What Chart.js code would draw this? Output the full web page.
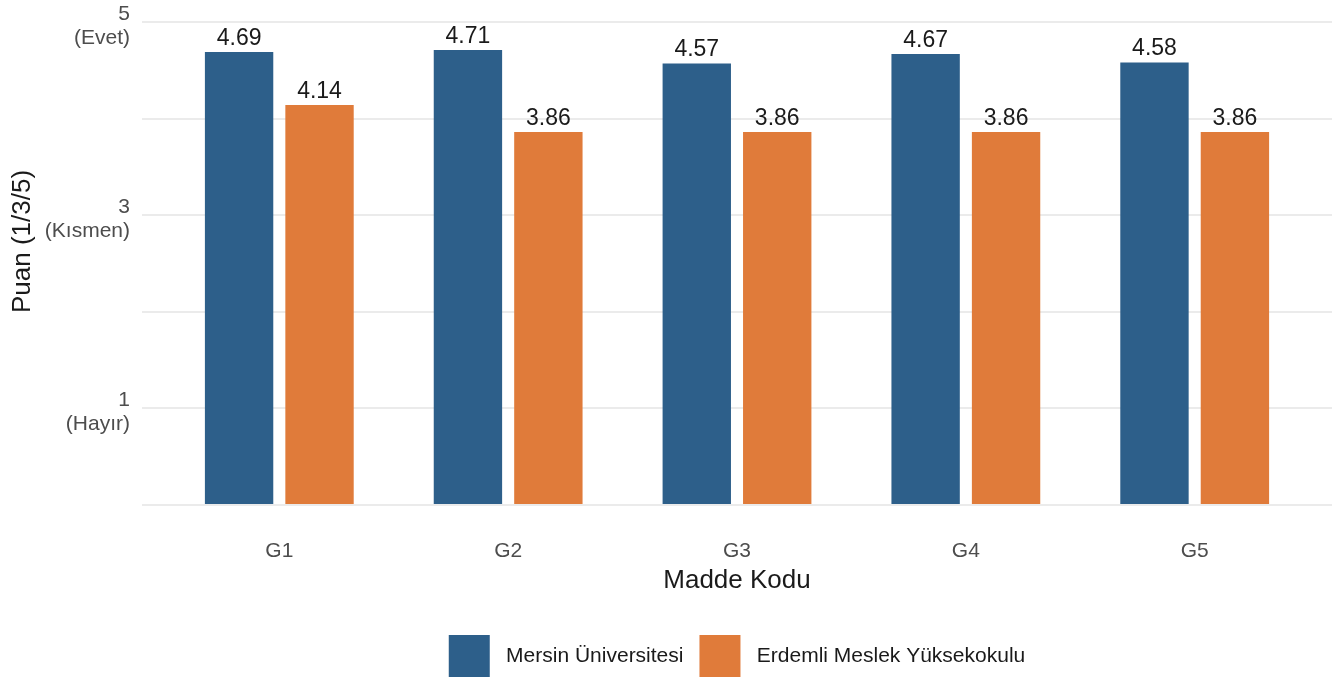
<!DOCTYPE html>
<html lang="tr">
<head>
<meta charset="UTF-8">
<title>Puan (1/3/5)</title>
<script src="https://cdn.jsdelivr.net/npm/chart.js"></script>
<style>
  body { margin: 0; background: #fff; }
  #kutu { width: 1341px; height: 679px; }
</style>
</head>
<body>
<div id="kutu"><canvas id="grafik"></canvas></div>
<script>
// veriler
const categories = ['G1', 'G2', 'G3', 'G4', 'G5'];
const mersinValues = [4.69, 4.71, 4.57, 4.67, 4.58];
const erdemliValues = [4.14, 3.86, 3.86, 3.86, 3.86];
const seriesNames = ['Mersin Üniversitesi', 'Erdemli Meslek Yüksekokulu'];
const yTickLabels = { 1: ['1', '(Hayır)'], 3: ['3', '(Kısmen)'], 5: ['5', '(Evet)'] };

const FONT = "'Liberation Sans', Arial, sans-serif";

// bar ust etiketleri
const degerEtiketi = {
  id: 'degerEtiketi',
  afterDatasetsDraw(chart) {
    const ctx = chart.ctx;
    ctx.save();
    ctx.font = '23px ' + FONT;
    ctx.fillStyle = '#1a1a1a';
    ctx.textAlign = 'center';
    ctx.textBaseline = 'bottom';
    chart.data.datasets.forEach((ds, i) => {
      chart.getDatasetMeta(i).data.forEach((bar, j) => {
        ctx.fillText(ds.data[j].y.toFixed(2), bar.x, bar.y - 2);
      });
    });
    ctx.restore();
  }
};

// y ekseni yazilarini biraz kaydir
const yKaydir = {
  id: 'yKaydir',
  beforeDraw(chart) {
    const s = chart.scales.y;
    if (s._kaydirildi) return;
    s._kaydirildi = true;
    const etiket = s.drawLabels.bind(s);
    const baslik = s.drawTitle.bind(s);
    s.drawLabels = function (area) {
      s.ctx.save(); s.ctx.translate(0, 4); etiket(area); s.ctx.restore();
    };
    s.drawTitle = function () {
      s.ctx.save(); s.ctx.translate(0, -22); baslik(); s.ctx.restore();
    };
  }
};

const ctx = document.getElementById('grafik').getContext('2d');
new Chart(ctx, {
  type: 'bar',
  data: {
    datasets: [{
      label: seriesNames[0],
      data: mersinValues.map((v, i) => ({ x: i + 1, y: v })),
      backgroundColor: '#2d5f8a',
      categoryPercentage: 0.703,
      barPercentage: 0.85
    }, {
      label: seriesNames[1],
      data: erdemliValues.map((v, i) => ({ x: i + 1, y: v })),
      backgroundColor: '#e07b3a',
      categoryPercentage: 0.703,
      barPercentage: 0.85
    }]
  },
  options: {
    responsive: true,
    maintainAspectRatio: false,
    animation: false,
    layout: { padding: { left: 6, right: 9, top: 0, bottom: -8 } },
    scales: {
      x: {
        type: 'linear',
        offset: false,
        min: 0.4,
        max: 5.6,
        afterBuildTicks: (s) => { s.ticks = categories.map((c, i) => ({ value: i + 1 })); },
        afterFit: (s) => { s.height = 114; },
        grid: { display: false, drawTicks: false },
        border: { display: false },
        ticks: {
          padding: 34,
          color: '#4d4d4d',
          font: { family: FONT, size: 21 },
          callback: (v) => categories[v - 1] || ''
        },
        title: {
          display: true, text: 'Madde Kodu', color: '#1a1a1a',
          font: { family: FONT, size: 26 }, padding: { top: 0, bottom: 23 }
        }
      },
      y: {
        min: 0,
        max: 5,
        afterBuildTicks: (s) => { s.ticks = [0, 1, 2, 3, 4, 5].map(v => ({ value: v })); },
        afterFit: (s) => { s.width = 136; s.paddingTop = 22; s.paddingBottom = 0; },
        grid: { color: '#ebebeb', lineWidth: 2, drawTicks: false },
        border: { display: false },
        ticks: {
          padding: 12,
          color: '#4d4d4d',
          font: { family: FONT, size: 21, lineHeight: 1.12 },
          callback: (v) => yTickLabels[v] || ''
        },
        title: {
          display: true, text: 'Puan (1/3/5)', color: '#1a1a1a',
          font: { family: FONT, size: 26 }, padding: { top: 1, bottom: 10 }
        }
      }
    },
    plugins: {
      legend: {
        position: 'bottom',
        fullSize: false,
        labels: {
          boxWidth: 41,
          boxHeight: 42,
          padding: 16,
          color: '#1a1a1a',
          font: { family: FONT, size: 21 },
          generateLabels: (chart) => Chart.defaults.plugins.legend.labels.generateLabels(chart)
            .map(item => Object.assign(item, { text: ' ' + item.text, lineWidth: 0 }))
        }
      },
      tooltip: { enabled: false }
    }
  },
  plugins: [degerEtiketi, yKaydir]
});
</script>
</body>
</html>
